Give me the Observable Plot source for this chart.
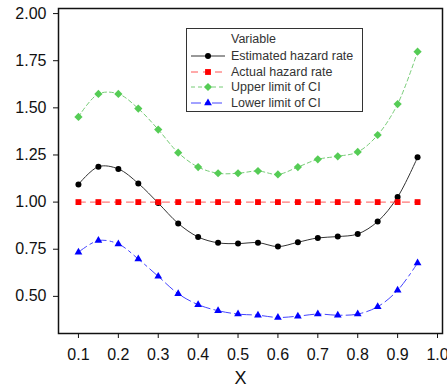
<!DOCTYPE html>
<html>
<head>
<meta charset="utf-8">
<script src="https://cdn.jsdelivr.net/npm/d3@7"></script>
<script src="https://cdn.jsdelivr.net/npm/@observablehq/plot@0.6"></script>
<style>
  html, body { margin: 0; padding: 0; background: #fff; }
  #wrap { position: relative; width: 447px; height: 391px; font-family: "Liberation Sans", Arial, sans-serif; }
  #legend { position: absolute; left: 186px; top: 28px; width: 177px; height: 84px; border: 1px solid #333; background: #fff; box-sizing: border-box; font-size: 12.5px; color: #333; }
  #legend .title { position: absolute; left: 44px; top: 3px; }
  #legend .row { position: absolute; left: 4px; height: 14px; display: flex; align-items: center; }
  #legend .row span { margin-left: 6px; }
</style>
</head>
<body>
<div id="wrap">
  <div id="chart"></div>
  <div id="legend"></div>
</div>
<script>
const xs = [0.1, 0.15, 0.2, 0.25, 0.3, 0.35, 0.4, 0.45, 0.5, 0.55, 0.6, 0.65, 0.7, 0.75, 0.8, 0.85, 0.9, 0.95];
const estimated = [1.094, 1.188, 1.176, 1.099, 0.995, 0.887, 0.815, 0.784, 0.780, 0.785, 0.764, 0.787, 0.810, 0.817, 0.831, 0.897, 1.027, 1.238];
const actual = [1, 1, 1, 1, 1, 1, 1, 1, 1, 1, 1, 1, 1, 1, 1, 1, 1, 1];
const upper = [1.452, 1.574, 1.574, 1.496, 1.385, 1.262, 1.186, 1.153, 1.153, 1.165, 1.147, 1.186, 1.227, 1.243, 1.266, 1.356, 1.520, 1.798];
const lower = [0.734, 0.796, 0.778, 0.698, 0.606, 0.514, 0.456, 0.424, 0.406, 0.400, 0.388, 0.395, 0.406, 0.400, 0.406, 0.445, 0.532, 0.677];
const xTicks = [0.1, 0.2, 0.3, 0.4, 0.5, 0.6, 0.7, 0.8, 0.9, 1.0];
const yTicks = [0.5, 0.75, 1.0, 1.25, 1.5, 1.75, 2.0];
const seriesNames = ["Estimated hazard rate", "Actual hazard rate", "Upper limit of CI", "Lower limit of CI"];

const styles = [
  {stroke: "#000000", dash: null, symbol: "circle", r: 3, line: "#333"},
  {stroke: "#ff0000", dash: "7,5", symbol: "square", r: 3.3, line: "#ff5555"},
  {stroke: "#55cc55", dash: "4,3", symbol: "diamond2", r: 3.7, line: "#77cc77"},
  {stroke: "#0000ff", dash: "10,4,3,4", symbol: "triangle2", r: 3.7, line: "#4444ff"}
];
const values = [estimated, actual, upper, lower];
const tables = values.map(v => xs.map((x, i) => ({x, y: v[i]})));

const marks = [];
tables.forEach((t, k) => {
  const s = styles[k];
  marks.push(Plot.line(t, {x: "x", y: "y", stroke: s.line, strokeWidth: 1, strokeDasharray: s.dash, curve: "catmull-rom"}));
});
tables.forEach((t, k) => {
  const s = styles[k];
  marks.push(Plot.dot(t, {x: "x", y: "y", fill: s.stroke, stroke: "none", symbol: s.symbol, r: s.r}));
});
marks.push(Plot.frame({stroke: "#111", strokeWidth: 1.5}));

const chart = Plot.plot({
  width: 447,
  height: 391,
  marginLeft: 58,
  marginRight: 5,
  marginTop: 8,
  marginBottom: 58,
  style: {fontFamily: "Liberation Sans, Arial, sans-serif", fontSize: "16px", color: "#111", background: "#fff"},
  x: {domain: [0.05, 1.0125], ticks: xTicks, tickFormat: d3.format(".1f"), tickSize: 5, tickPadding: 10, label: "X", labelArrow: false, labelAnchor: "center", labelOffset: 50},
  y: {domain: [0.303, 2.027], ticks: yTicks, tickFormat: d3.format(".2f"), tickSize: 5, tickPadding: 7, label: null},
  marks
});
document.getElementById("chart").appendChild(chart);
chart.querySelectorAll("g[aria-label='x-axis label'] text").forEach(t => { t.style.fontSize = "18px"; t.textContent = "X"; t.setAttribute("dx", "-10"); });

// legend
const legend = document.getElementById("legend");
const title = document.createElement("div");
title.className = "title";
title.textContent = "Variable";
legend.appendChild(title);
const symbolPaths = {circle: d3.symbolCircle, square: d3.symbolSquare, diamond2: d3.symbolDiamond2, triangle2: d3.symbolTriangle2};
seriesNames.forEach((name, k) => {
  const s = styles[k];
  const row = document.createElement("div");
  row.className = "row";
  row.style.top = (20 + k * 15.5) + "px";
  const svg = d3.create("svg").attr("width", 34).attr("height", 10);
  svg.append("line").attr("x1", 0).attr("x2", 34).attr("y1", 5).attr("y2", 5)
    .attr("stroke", s.line).attr("stroke-width", 1).attr("stroke-dasharray", s.dash);
  const size = Math.PI * s.r * s.r;
  svg.append("path").attr("d", d3.symbol(symbolPaths[s.symbol], size)()).attr("transform", "translate(17,5)").attr("fill", s.stroke);
  row.appendChild(svg.node());
  const sp = document.createElement("span");
  sp.textContent = name;
  row.appendChild(sp);
  legend.appendChild(row);
});
</script>
</body>
</html>
